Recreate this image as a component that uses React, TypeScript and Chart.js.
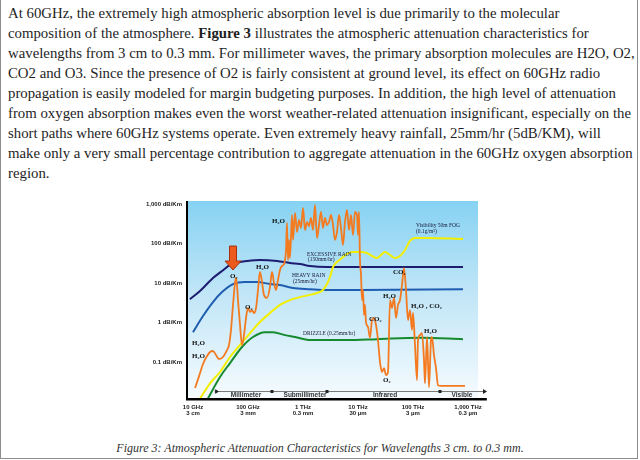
import React, { useEffect, useRef } from "react";
import { Chart, registerables } from "chart.js";
Chart.register(...registerables);

// ---------- page text ----------
const paragraphLines = [
  "At 60GHz, the extremely high atmospheric absorption level is due primarily to the molecular",
  "composition of the atmosphere. |Figure 3| illustrates the atmospheric attenuation characteristics for",
  "wavelengths from 3 cm to 0.3 mm. For millimeter waves, the primary absorption molecules are H2O, O2,",
  "CO2 and O3. Since the presence of O2 is fairly consistent at ground level, its effect on 60GHz radio",
  "propagation is easily modeled for margin budgeting purposes. In addition, the high level of attenuation",
  "from oxygen absorption makes even the worst weather-related attenuation insignificant, especially on the",
  "short paths where 60GHz systems operate. Even extremely heavy rainfall, 25mm/hr (5dB/KM), will",
  "make only a very small percentage contribution to aggregate attenuation in the 60GHz oxygen absorption",
  "region.",
];
const captionText = "Figure 3: Atmospheric Attenuation Characteristics for Wavelengths 3 cm. to 0.3 mm.";

// ---------- axes ----------
const xTickValues = [10, 100, 1000, 10000, 100000, 1000000]; // GHz
const xTickFreq = ["10 GHz", "100 GHz", "1 THz", "10 THz", "100 THz", "1,000 THz"];
const xTickWave = ["3 cm", "3 mm", "0.3 mm", "30 µm", "3 µm", "0.3 µm"];
const yTickValues = [0.1, 1, 10, 100, 1000]; // dB/km
const yTickLabels = ["0.1 dB/Km", "1 dB/Km", "10 dB/Km", "100 dB/Km", "1,000 dB/Km"];
const xMin = 7.78;
const xMax = 1520000;
const yMin = 0.0116;
const yMax = 1190;
const xAxisEnd = 2200000;

// ---------- series (frequency GHz, attenuation dB/km) ----------
const excessiveRainFreq = [8.8, 13.4, 23.1, 33.7, 47.1, 71.6, 96, 165, 337, 580, 882, 1341, 2731, 10870, 58000, 811000];
const excessiveRainAtten = [3.9, 6.3, 13.4, 20.1, 28.6, 34, 36.1, 38.2, 36.1, 32.1, 30.3, 27, 25.4, 25.4, 25.4, 25.4];

const heavyRainFreq = [10, 15.2, 23.1, 33.7, 53.4, 88, 146, 251, 382, 658, 1341, 2731, 10870, 811000];
const heavyRainAtten = [0.57, 1.46, 3.3, 5.9, 9.4, 10.6, 10.6, 9.4, 8.9, 7.5, 7.0, 6.65, 6.65, 7.0];

const drizzleFreq = [18, 31, 47.1, 77.8, 123, 204, 285, 471, 716, 1341, 2731, 6310, 22130, 134000, 811000];
const drizzleAtten = [0.0109, 0.042, 0.094, 0.24, 0.43, 0.57, 0.57, 0.48, 0.43, 0.36, 0.36, 0.36, 0.38, 0.41, 0.38];

const fogFreq = [12.9, 20.4, 31, 47.1, 71.6, 109, 165, 251, 382, 580, 882, 1798, 2310, 2731, 3097, 3511, 4150, 5117, 6310, 8110, 10870, 14580, 17980, 22130, 26200, 30970, 38190, 47100, 58000, 71600, 88200, 108700, 179800, 811000];
const fogAtten = [0.0109, 0.029, 0.056, 0.134, 0.27, 0.54, 1.03, 1.74, 2.8, 3.7, 4.4, 5.6, 6.65, 9.4, 14.2, 25.4, 34, 43, 54.3, 61, 61, 57.5, 48.3, 43, 51.2, 61, 51.2, 43, 48.3, 68.5, 116, 138, 138, 130];

const gasFreq = [
  10.9, 12.9, 15.2, 18, 20.4, 23.1, 26.2, 29.7, 35.1, 41.5, 45.2, 49.1, 53.4, 58, 60.5, 63, 65.8, 71.6, 77.8, 84.5,
  92, 100, 109, 118, 128.5, 140, 152, 165, 180, 195, 221, 251, 273, 297, 323, 351, 382, 415, 452, 491,
  512, 534, 556, 580, 631, 658, 716, 778, 846, 920, 1000, 1088, 1183, 1286, 1398, 1520, 1652, 1798, 1954, 2124,
  2310, 2512, 2731, 2970, 3230, 3511, 3819, 4150, 4518, 4909, 5337, 5800, 6310, 6855, 7460, 8110, 8820, 9590, 10000, 10420,
  10870, 11350, 11830, 12330, 12850, 13400, 13970, 15200, 16520, 17980, 19540, 21240, 23100, 25120, 27300, 29700, 32300, 35110, 38190, 41500,
  45200, 49100, 53400, 58000, 63100, 68600, 74600, 81100, 88200, 95900, 100000, 108700, 118300, 123300, 134000, 145800, 158500, 165200, 179800, 195400,
  212400, 221300, 240900, 261900, 285000, 323000, 881900,
];
const gasAtten = [
  0.022, 0.044, 0.089, 0.142, 0.18, 0.19, 0.15, 0.119, 0.134, 0.2, 0.27, 0.65, 2.8, 10, 13.4, 8.9, 3.7, 0.87, 0.27, 0.48,
  1.3, 2.33, 1.85, 2.07, 1.74, 2.33, 6.65, 19, 10.6, 5.0, 4.2, 7.9, 19, 10, 6.65, 11.9, 21.3, 27, 30.3, 68.5,
  330, 38.2, 123, 43, 527, 123, 591, 195, 394, 247, 792, 220, 350, 277, 443, 220, 944, 138, 294, 627,
  247, 443, 294, 350, 527, 294, 123, 195, 527, 247, 91.7, 350, 705, 220, 527, 164, 627, 527, 164, 627,
  38.2, 16, 3.7, 6.65, 1.55, 2.8, 1.03, 0.77, 0.41, 1.16, 1.3, 0.87, 0.36, 0.1, 0.056, 0.07, 0.047, 0.056, 3.7, 2.33,
  4.2, 1.3, 2.8, 3.7, 8.9, 24, 6.65, 1.16, 2.07, 0.65, 1.74, 0.27, 0.035, 0.36, 0.48, 0.54, 0.112, 0.029, 0.43, 0.023,
  0.36, 0.43, 0.15, 0.07, 0.026, 0.025, 0.025,
];

// ---------- annotations ----------
const chemLabels = ["H₂O", "O₂", "H₂O", "O₂", "CO₂", "H₂O", "H₂O , CO₂", "CO₂", "H₂O", "H₂O", "H₂O", "O₂"];
const chemFreq = [273, 47.1, 140, 88, 43300, 28500, 92000, 15800, 158500, 9.6, 9.6, 28500];
const chemAtten = [371, 15, 25.4, 2.5, 19, 4.7, 2.6, 1.23, 0.61, 0.3, 0.142, 0.035];

const noteLabels = ["EXCESSIVE RAIN", "(150mm/hr)", "HEAVY RAIN", "(25mm/hr)", "Visibility 50m FOG", "(0.1g/m³)", "DRIZZLE (0.25mm/hr)"];
const noteFreq = [1183, 1233, 631, 658, 113500, 113500, 1000];
const noteAtten = [54, 38.2, 15, 10.6, 277, 195, 0.54];

const bandNames = ["Millimeter", "Submillimeter", "Infrared", "Visible"];
const bandCenters = [92, 1090, 31000, 778000];
const bandEdges = [25, 273, 2731, 309700];
const bandEnd = 2040000;

const arrowFreq = 53.4;
const arrowAtten = 21.3;

const zip = (xs: number[], ys: number[]) => xs.map((x, i) => ({ x, y: ys[i] }));

const decorPlugin = {
  id: "decor",
  beforeDatasetsDraw(chart: any) {
    const { ctx, chartArea } = chart;
    const { left, right, top, bottom } = chartArea;
    const g = ctx.createLinearGradient(0, top, 0, bottom);
    g.addColorStop(0, "#86d2f3");
    g.addColorStop(0.45, "#bfe5f7");
    g.addColorStop(1, "#f6fbfe");
    ctx.save();
    ctx.fillStyle = g;
    ctx.fillRect(left, top, right - left, bottom - top);
    ctx.restore();
  },
  afterDatasetsDraw(chart: any) {
    const { ctx, chartArea, scales } = chart;
    const xs = scales.x;
    const ys = scales.y;
    const { left, top, bottom } = chartArea;
    ctx.save();

    // band line
    const by = bottom - 8;
    const bx0 = xs.getPixelForValue(bandEdges[0]);
    const bx1 = xs.getPixelForValue(bandEnd);
    ctx.strokeStyle = "#7a7a7a";
    ctx.lineWidth = 1;
    ctx.beginPath();
    ctx.moveTo(bx0, by + 0.5);
    ctx.lineTo(bx1, by + 0.5);
    ctx.stroke();
    ctx.fillStyle = "#222";
    bandEdges.forEach((e, i) => {
      const px = xs.getPixelForValue(e);
      if (i === 0) {
        ctx.fillRect(px, by - 1.5, 1, 4);
        ctx.beginPath();
        ctx.moveTo(px + 1, by - 1.5);
        ctx.lineTo(px + 4, by + 0.5);
        ctx.lineTo(px + 1, by + 2.5);
        ctx.fill();
      } else {
        ctx.fillRect(px - 1.5, by - 1, 3, 3);
      }
    });
    ctx.beginPath();
    ctx.moveTo(bx1 + 2, by + 0.5);
    ctx.lineTo(bx1 - 2, by - 2);
    ctx.lineTo(bx1 - 2, by + 3);
    ctx.fill();

    ctx.font = 'bold 6.5px "Liberation Sans"';
    ctx.fillStyle = "#333";
    ctx.textAlign = "center";
    ctx.textBaseline = "middle";
    bandNames.forEach((n, i) => {
      ctx.fillText(n, xs.getPixelForValue(bandCenters[i]), bottom - 4);
    });

    // axes
    ctx.fillStyle = "#000";
    ctx.fillRect(left - 1, top, 2, bottom - top);
    const xe = xs.getPixelForValue(xAxisEnd);
    ctx.fillRect(left - 1, bottom - 1, xe - left + 1, 2.5);

    // notes
    ctx.fillStyle = "#1a1a3a";
    ctx.textAlign = "left";
    ctx.font = '5.5px "Liberation Serif"';
    noteLabels.forEach((t, i) => {
      ctx.fillText(t, xs.getPixelForValue(noteFreq[i]), ys.getPixelForValue(noteAtten[i]));
    });
    ctx.fillStyle = "#111";
    ctx.font = 'bold 7px "Liberation Serif"';
    chemLabels.forEach((t, i) => {
      ctx.fillText(t, xs.getPixelForValue(chemFreq[i]), ys.getPixelForValue(chemAtten[i]));
    });

    // arrow
    const ax = xs.getPixelForValue(arrowFreq);
    const ay = ys.getPixelForValue(arrowAtten);
    ctx.beginPath();
    ctx.moveTo(ax, ay);
    ctx.lineTo(ax - 8, ay - 9);
    ctx.lineTo(ax - 3.5, ay - 9);
    ctx.lineTo(ax - 3.5, ay - 24);
    ctx.lineTo(ax + 3.5, ay - 24);
    ctx.lineTo(ax + 3.5, ay - 9);
    ctx.lineTo(ax + 8, ay - 9);
    ctx.closePath();
    ctx.fillStyle = "#ec5a1e";
    ctx.fill();
    ctx.strokeStyle = "#a8300f";
    ctx.lineWidth = 1;
    ctx.stroke();

    ctx.restore();
  },
};

function AttenuationChart() {
  const ref = useRef<HTMLCanvasElement | null>(null);
  useEffect(() => {
    if (!ref.current) return;
    const line = (data: any, color: string, width = 2) => ({
      data,
      borderColor: color,
      borderWidth: width,
      pointRadius: 0,
      fill: false,
      cubicInterpolationMode: "monotone",
    });
    const chart = new Chart(ref.current, {
      type: "line",
      data: {
        datasets: [
          line(zip(gasFreq, gasAtten), "#f47a1f", 1.8),
          line(zip(fogFreq, fogAtten), "#f3ef00", 2),
          line(zip(drizzleFreq, drizzleAtten), "#168a2e", 2),
          line(zip(heavyRainFreq, heavyRainAtten), "#1f5db0", 2),
          line(zip(excessiveRainFreq, excessiveRainAtten), "#1c1c70", 2),
        ] as any,
      },
      options: {
        animation: false,
        responsive: false,
        maintainAspectRatio: false,
        events: [],
        layout: { padding: { top: 11, right: 22, left: 0, bottom: 0 } },
        plugins: { legend: { display: false }, tooltip: { enabled: false } },
        scales: {
          x: {
            type: "logarithmic",
            min: xMin,
            max: xMax,
            grid: { display: false, drawTicks: false },
            border: { display: false },
            afterBuildTicks: (axis: any) => {
              axis.ticks = xTickValues.map((v) => ({ value: v }));
            },
            afterFit: (axis: any) => {
              axis.height = 21;
              axis.paddingLeft = 0;
              axis.paddingRight = 0;
            },
            ticks: {
              autoSkip: false,
              maxRotation: 0,
              minRotation: 0,
              padding: 5,
              color: "#222",
              font: { family: "Liberation Sans", size: 6, weight: "bold", lineHeight: 1 },
              callback: (_v: any, i: number) => [xTickFreq[i], xTickWave[i]],
            },
          },
          y: {
            type: "logarithmic",
            min: yMin,
            max: yMax,
            grid: { display: false, drawTicks: false },
            border: { display: false },
            afterBuildTicks: (axis: any) => {
              axis.ticks = yTickValues.map((v) => ({ value: v }));
            },
            afterFit: (axis: any) => {
              axis.width = 47;
              axis.paddingTop = 0;
              axis.paddingBottom = 0;
            },
            ticks: {
              autoSkip: false,
              padding: 5,
              color: "#222",
              font: { family: "Liberation Sans", size: 6, weight: "bold", lineHeight: 1 },
              callback: (_v: any, i: number) => yTickLabels[i],
            },
          },
        },
      } as any,
      plugins: [decorPlugin],
    });
    return () => chart.destroy();
  }, []);
  return (
    <canvas
      ref={ref}
      width={360}
      height={230}
      style={{ position: "absolute", left: 140, top: 190, width: 360, height: 230 }}
    />
  );
}

export default function App() {
  return (
    <div style={{ position: "absolute", left: 0, top: 0, width: 640, height: 460, background: "#fff", overflow: "hidden" }}>
      <div
        style={{
          position: "absolute",
          left: 0,
          top: -1,
          width: 636,
          height: 458,
          border: "1px solid #8c8c8c",
        }}
      />
      <div
        style={{
          position: "absolute",
          left: 8,
          top: 3,
          fontFamily: '"Liberation Serif", serif',
          fontSize: 14.8,
          lineHeight: "20px",
          color: "#1e1e1e",
          whiteSpace: "nowrap",
        }}
      >
        {paragraphLines.map((l, i) => {
          const parts = l.split("|");
          return (
            <div key={i}>
              {parts.map((p, j) => (j % 2 === 1 ? <b key={j}>{p}</b> : <span key={j}>{p}</span>))}
            </div>
          );
        })}
      </div>
      <AttenuationChart />
      <div
        style={{
          position: "absolute",
          left: 0,
          top: 440,
          width: 640,
          textAlign: "center",
          fontFamily: '"Liberation Serif", serif',
          fontStyle: "italic",
          fontSize: 12,
          lineHeight: "16px",
          color: "#333",
        }}
      >
        {captionText}
      </div>
    </div>
  );
}
